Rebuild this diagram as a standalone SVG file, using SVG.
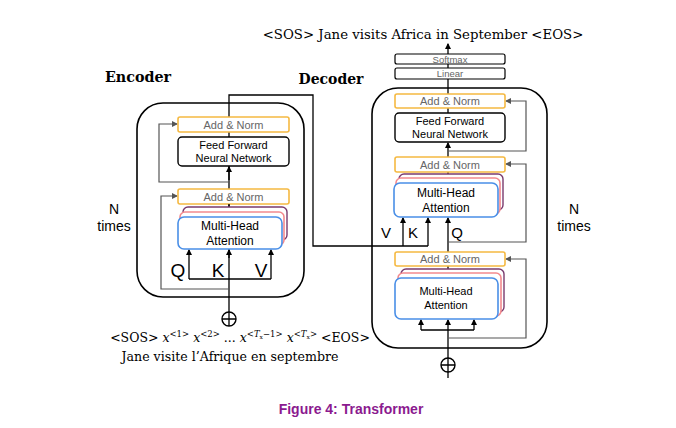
<svg xmlns="http://www.w3.org/2000/svg" width="676" height="428" viewBox="0 0 676 428">
<defs>
<marker id="ah" viewBox="0 0 6 6" refX="5" refY="3" markerWidth="5" markerHeight="5" orient="auto"><path d="M0,0 L6,3 L0,6 z" fill="#000"/></marker>
<marker id="ahg" viewBox="0 0 6 6" refX="5" refY="3" markerWidth="5" markerHeight="5" orient="auto"><path d="M0,0 L6,3 L0,6 z" fill="#555"/></marker>
</defs>
<style>
.outer{fill:none;stroke:#000;stroke-width:1.6}
.an{fill:#fff;stroke:#F5B942;stroke-width:1.6}
.ffn{fill:#fff;stroke:#000;stroke-width:1.4}
.sm{fill:#fff;stroke:#000;stroke-width:1.2}
.mp{fill:#fff;stroke:#7A3B6E;stroke-width:1.4}
.mk{fill:#fff;stroke:#F38A8E;stroke-width:1.6}
.mb{fill:#fff;stroke:#4A8FE7;stroke-width:1.6}
.w{fill:none;stroke:#000;stroke-width:1.3}
.g{fill:none;stroke:#555;stroke-width:1.2}
.s{font-family:"Liberation Sans",Arial,sans-serif}
.t11{font-size:11px}
.gr{fill:#666}
.serif{font-family:"DejaVu Serif","Liberation Serif",serif}
</style>
<rect width="676" height="428" fill="#fff"/>
<g id="titles">
<text class="serif" x="423" y="39" font-size="13.3" text-anchor="middle">&lt;SOS&gt; Jane visits Africa in September &lt;EOS&gt;</text>
<text class="serif" x="138" y="82" font-size="14.3" font-weight="bold" text-anchor="middle">Encoder</text>
<text class="serif" x="331" y="84" font-size="14" font-weight="bold" text-anchor="middle">Decoder</text>
<text class="s" x="114" y="214" font-size="14" text-anchor="middle">N</text>
<text class="s" x="114" y="231" font-size="14" text-anchor="middle">times</text>
<text class="s" x="574" y="214" font-size="14" text-anchor="middle">N</text>
<text class="s" x="574" y="231" font-size="14" text-anchor="middle">times</text>
<text class="serif" x="240" y="342" font-size="12.5" text-anchor="middle">&lt;SOS&gt; <tspan font-style="italic">x</tspan><tspan font-size="8.5" dy="-5">&lt;1&gt;</tspan><tspan dy="5"> </tspan><tspan font-style="italic">x</tspan><tspan font-size="8.5" dy="-5">&lt;2&gt;</tspan><tspan dy="5">  ... </tspan><tspan font-style="italic">x</tspan><tspan font-size="8.5" dy="-5">&lt;<tspan font-style="italic">T</tspan><tspan font-size="6" dy="2">x</tspan><tspan dy="-2">−1&gt;</tspan></tspan><tspan dy="5">  </tspan><tspan font-style="italic">x</tspan><tspan font-size="8.5" dy="-5">&lt;<tspan font-style="italic">T</tspan><tspan font-size="6" dy="2">x</tspan><tspan dy="-2">&gt;</tspan></tspan><tspan dy="5"> &lt;EOS&gt;</tspan></text>
<text class="serif" x="230" y="361" font-size="12.6" text-anchor="middle">Jane visite l’Afrique en septembre</text>
<text class="s" x="351" y="414" font-size="14" font-weight="bold" fill="#8B1A8F" text-anchor="middle">Figure 4: Transformer</text>
</g>
<g id="connectors">
<path class="w" d="M229,326 V95 H313 V246 H428"/>
<path class="w" d="M229,258 V250" marker-end="url(#ah)"/>
<path class="w" d="M189,279 H271"/>
<path class="w" d="M189,279 V250" marker-end="url(#ah)"/>
<path class="w" d="M271,279 V250" marker-end="url(#ah)"/>
<path class="w" d="M229,180 V167" marker-end="url(#ah)"/>
<path class="g" d="M229,289 H161 V196 H177" marker-end="url(#ahg)"/>
<path class="g" d="M229,182 H159 V124 H177" marker-end="url(#ahg)"/>
<path class="w" d="M448,378 V320" marker-end="url(#ah)"/>
<path class="w" d="M421,330 H474"/>
<path class="w" d="M421,330 V320" marker-end="url(#ah)"/>
<path class="w" d="M474,330 V320" marker-end="url(#ah)"/>
<path class="w" d="M448,270 V264"/>
<path class="w" d="M448,252 V218" marker-end="url(#ah)"/>
<path class="w" d="M403,246 V218" marker-end="url(#ah)"/>
<path class="w" d="M428,246 V218" marker-end="url(#ah)"/>
<path class="w" d="M448,175 V170"/>
<path class="w" d="M448,157 V143" marker-end="url(#ah)"/>
<path class="w" d="M448,113 V108"/>
<path class="w" d="M448,94 V79"/>
<path class="w" d="M448,68 V64"/>
<path class="w" d="M448,54 V44" marker-end="url(#ah)"/>
<path class="g" d="M448,338 H526 V259 H506" marker-end="url(#ahg)"/>
<path class="g" d="M448,242 H526 V164 H506" marker-end="url(#ahg)"/>
<path class="g" d="M448,151 H526 V101 H506" marker-end="url(#ahg)"/>
<circle cx="229" cy="319" r="7" fill="#fff" stroke="#000" stroke-width="1.4"/>
<path class="w" d="M222,319 H236 M229,312 V326"/>
<circle cx="448" cy="365" r="7" fill="#fff" stroke="#000" stroke-width="1.4"/>
<path class="w" d="M441,365 H455 M448,358 V372"/>
</g>
<g id="encoder">
<rect class="outer" x="137" y="103" width="167" height="194" rx="26"/>
<g id="enc-addnorm2"><rect class="an" x="178" y="117" width="111" height="15" rx="2"/><text class="s t11 gr" x="233.5" y="128.5" text-anchor="middle">Add &amp; Norm</text></g>
<g id="enc-ffn"><rect class="ffn" x="178" y="137" width="111" height="29" rx="4"/><text class="s t11" x="233.5" y="149" text-anchor="middle">Feed Forward</text><text class="s t11" x="233.5" y="162" text-anchor="middle">Neural Network</text></g>
<g id="enc-addnorm1"><rect class="an" x="178" y="189" width="111" height="15" rx="2"/><text class="s t11 gr" x="233.5" y="200.5" text-anchor="middle">Add &amp; Norm</text></g>
<path class="w" d="M229,204 V207"/>
<g id="enc-mha"><rect class="mp" x="183" y="207" width="104" height="33" rx="5"/><rect class="mk" x="180" y="212" width="104" height="33" rx="5"/><rect class="mb" x="178" y="217" width="104" height="32" rx="6"/><text class="s" x="230" y="230" font-size="12" text-anchor="middle">Multi-Head</text><text class="s" x="230" y="245" font-size="12" text-anchor="middle">Attention</text></g>
<text class="s" x="178" y="277" font-size="19" text-anchor="middle">Q</text>
<text class="s" x="218" y="277" font-size="19" text-anchor="middle">K</text>
<text class="s" x="261" y="277" font-size="19" text-anchor="middle">V</text>
</g>
<g id="decoder">
<rect class="outer" x="372" y="88" width="175" height="260" rx="26"/>
<g id="softmax"><rect class="sm" x="395" y="54" width="110" height="10" rx="2"/><text class="s gr" x="450" y="62.5" font-size="9.5" text-anchor="middle">Softmax</text></g>
<g id="linear"><rect class="sm" x="395" y="68" width="110" height="11" rx="2"/><text class="s gr" x="450" y="77" font-size="9.5" text-anchor="middle">Linear</text></g>
<g id="dec-addnorm3"><rect class="an" x="395" y="94" width="110" height="14" rx="2"/><text class="s t11 gr" x="450" y="105" text-anchor="middle">Add &amp; Norm</text></g>
<g id="dec-ffn"><rect class="ffn" x="395" y="113" width="110" height="29" rx="4"/><text class="s t11" x="450" y="125" text-anchor="middle">Feed Forward</text><text class="s t11" x="450" y="138" text-anchor="middle">Neural Network</text></g>
<g id="dec-addnorm2"><rect class="an" x="395" y="157" width="110" height="15" rx="2"/><text class="s t11 gr" x="450" y="168.5" text-anchor="middle">Add &amp; Norm</text></g>
<g id="dec-mha2"><rect class="mp" x="399" y="174" width="104" height="36" rx="5"/><rect class="mk" x="396" y="178" width="104" height="36" rx="5"/><rect class="mb" x="394" y="183" width="104" height="34" rx="6"/><text class="s" x="446" y="197" font-size="12" text-anchor="middle">Multi-Head</text><text class="s" x="446" y="212" font-size="12" text-anchor="middle">Attention</text></g>
<text class="s" x="386" y="238" font-size="15" text-anchor="middle">V</text>
<text class="s" x="413" y="238" font-size="15" text-anchor="middle">K</text>
<text class="s" x="457" y="238" font-size="15" text-anchor="middle">Q</text>
<g id="dec-addnorm1"><rect class="an" x="395" y="252" width="110" height="14" rx="2"/><text class="s t11 gr" x="450" y="263" text-anchor="middle">Add &amp; Norm</text></g>
<g id="dec-mha1"><rect class="mp" x="401" y="269" width="103" height="43" rx="5"/><rect class="mk" x="398" y="273" width="103" height="43" rx="5"/><rect class="mb" x="395" y="278" width="103" height="41" rx="6"/><text class="s" x="446" y="295" font-size="11" text-anchor="middle">Multi-Head</text><text class="s" x="446" y="308.5" font-size="11" text-anchor="middle">Attention</text></g>
</g>
</svg>
